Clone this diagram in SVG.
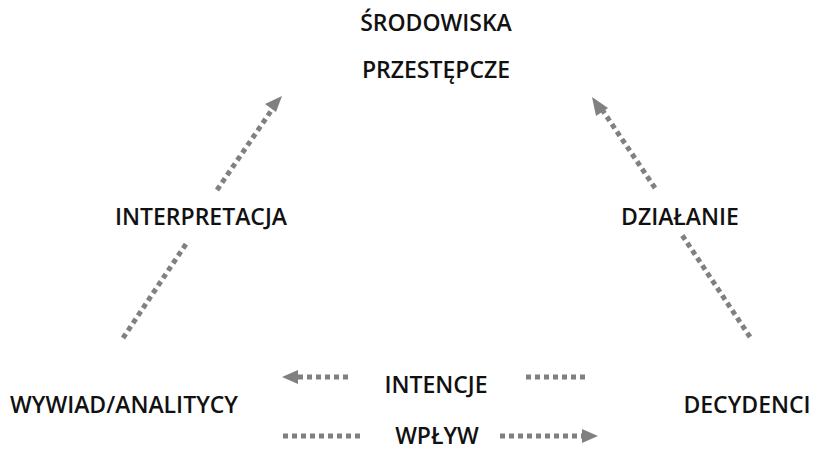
<svg xmlns="http://www.w3.org/2000/svg" width="814" height="450" viewBox="0 0 814 450">
<style>
text{font-family:"Open Sans","Noto Sans","DejaVu Sans",sans-serif;font-weight:600;font-size:23px;fill:#111;text-anchor:middle}
.c{stroke:#808080;stroke-width:5;stroke-dasharray:5 4;fill:none}
.h{fill:#808080}
</style>
<rect width="814" height="450" fill="#fff"/>
<g id="connectors">
<line class="c" x1="123" y1="338" x2="186" y2="244"/>
<line class="c" x1="217" y1="190" x2="271" y2="111"/>
<polygon class="h" points="282,96 265,104 276,112"/>
<line class="c" x1="750" y1="337" x2="682" y2="235"/>
<line class="c" x1="655" y1="188" x2="603" y2="111"/>
<polygon class="h" points="592,97 596,116 608,108"/>
<line class="c" x1="348" y1="377" x2="297" y2="377"/>
<polygon class="h" points="282,377 298,370 298,384"/>
<line class="c" x1="585" y1="377" x2="522" y2="377"/>
<line class="c" x1="283" y1="436" x2="360" y2="436"/>
<line class="c" x1="500" y1="436" x2="583" y2="436"/>
<polygon class="h" points="598,436 582,429 582,443"/>
</g>
<g id="node-srodowiska"><text x="436" y="31">ŚRODOWISKA</text><text x="436" y="78">PRZESTĘPCZE</text></g>
<g id="node-interpretacja"><text x="201" y="225">INTERPRETACJA</text></g>
<g id="node-dzialanie"><text x="680" y="225">DZIAŁANIE</text></g>
<g id="node-wywiad"><text x="124" y="413">WYWIAD/ANALITYCY</text></g>
<g id="node-decydenci"><text x="747" y="413">DECYDENCI</text></g>
<g id="node-intencje"><text x="436" y="393">INTENCJE</text></g>
<g id="node-wplyw"><text x="437" y="444">WPŁYW</text></g>
</svg>
